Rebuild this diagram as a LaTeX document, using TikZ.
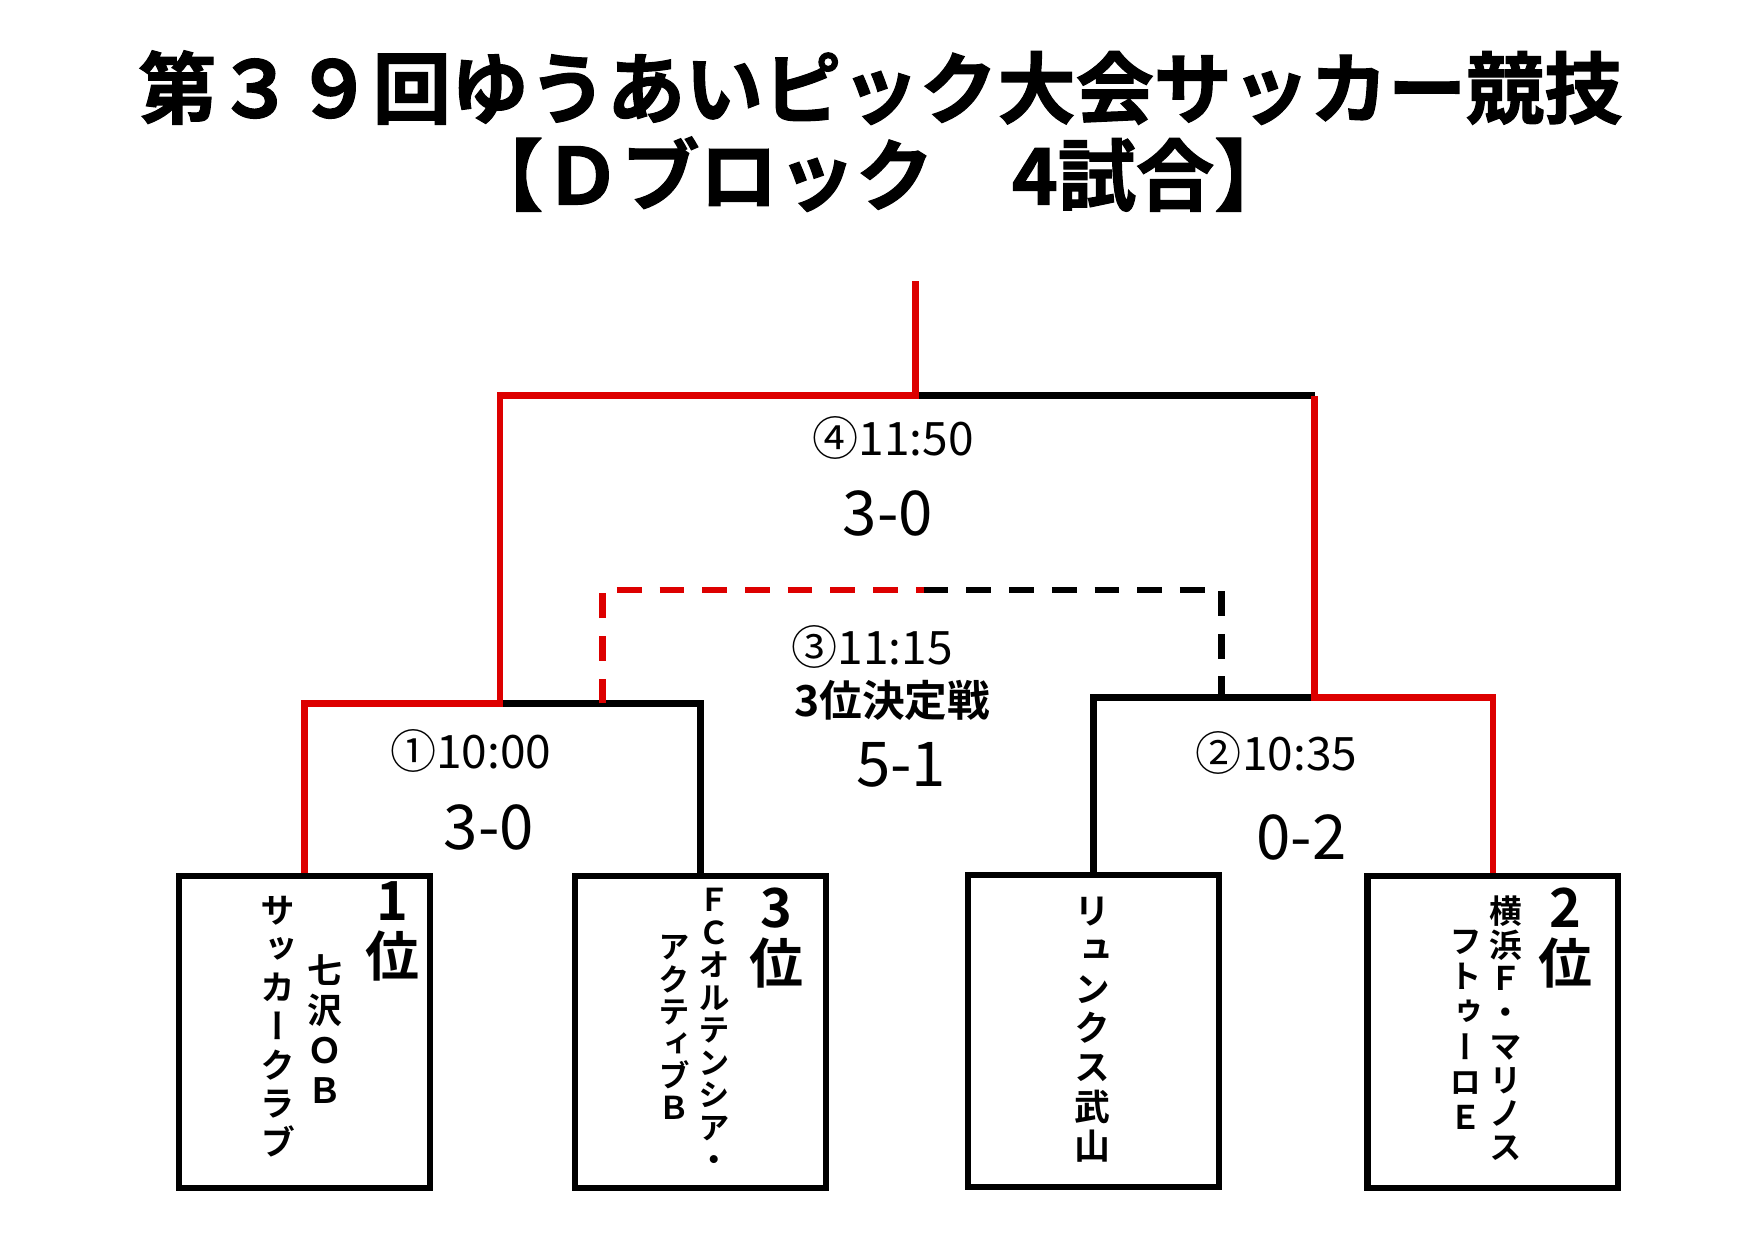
\documentclass[tikz,border=0pt]{standalone}
\usepackage{fontspec}
\usetikzlibrary{calc}
\newfontfamily\jpfont{Noto Sans CJK JP}[BoldFont={* Bold}]
\newfontfamily\jpvfont{Noto Sans CJK JP}[BoldFont={* Bold},RawFeature=+vert]
\newfontfamily\headfont{Noto Sans CJK JP}[UprightFont={* Bold},FakeBold=1.5]
\definecolor{winred}{RGB}{221,0,0}

\begin{document}
\begin{tikzpicture}[x=1pt,y=1pt,yscale=-1,
  team/.style={draw,line width=5.5pt,minimum width=223pt,minimum height=278pt,inner sep=0pt},
  bline/.style={line width=6pt,line join=miter},
  rline/.style={bline,draw=winred},
  dline/.style={line width=6pt,dash pattern=on 22pt off 16pt},
  vcol/.style 2 args={align=center,inner sep=0pt,font=\jpvfont\bfseries\fontsize{#1}{#2}\selectfont},
  rank/.style={align=center,inner sep=0pt,font=\jpvfont\bfseries\fontsize{48}{50}\selectfont},
  gtime/.style={inner sep=0pt,font=\jpfont\fontsize{41}{46}\selectfont},
  gscore/.style={inner sep=0pt,font=\jpfont\fontsize{55}{60}\selectfont},
  headline/.style={inner sep=0pt,font=\headfont\fontsize{69.5}{80}\selectfont}]
\path[use as bounding box] (0,0) rectangle (1560,1103.5);

% Title
\node[headline] (title1) at (783.5,78) {第３９回ゆうあいピック大会サッカー競技};
\node[headline] (title2) at (782,155) {【Ｄブロック　4試合】};

% Team boxes
\node[team] (t1) at (271,918.5) {};
\node[team] (t2) at (623.5,918.5) {};
\node[team] (t3) at (973,917.5) {};
\node[team] (t4) at (1328.5,918.5) {};

% Bracket points
\coordinate (m1) at (445,626);
\coordinate (s1) at (536,626);
\coordinate (m2) at (1170,621);
\coordinate (s2) at (1087,621);
\coordinate (fl) at (445,352);
\coordinate (fc) at (815,352);
\coordinate (fr) at (1170,352);
\coordinate (win) at (815,250);
\coordinate (tl) at (536,525);
\coordinate (tc) at (822,525);
\coordinate (tr) at (1087,525);

%Straight Lines
\draw[bline] (m1) -- (t2.north |- m1) -- (t2.north);
\draw[bline] (t3.north) -- (t3.north |- m2) -- (m2);
\draw[bline] (fc) -- (fr);
\draw[rline] (t1.north) -- (t1.north |- m1) -- (m1) -- (fl) -- (fc) -- (win);
\draw[rline] (t4.north) -- (t4.north |- m2) -- (m2) -- (fr);
%Dashed Lines
\draw[dline,winred] (s1) -- (tl) -- (tc);
\draw[dline] (tc) -- (tr) -- (s2);

% Text Node
\node[gtime] (g4time) at (795,390) {④11:50};
\node[gscore] (g4score) at (790,457) {3-0};
\node[gtime] (g3time) at (776,576) {③11:15};
\node[inner sep=0pt,font=\jpfont\bfseries\fontsize{38}{44}\selectfont] (g3note) at (794,623) {3位決定戦};
\node[gscore] (g3score) at (802,681) {5-1};
\node[gtime] (g1time) at (419,668) {①10:00};
\node[gscore] (g1score) at (435,736) {3-0};
\node[gtime] (g2time) at (1136,670) {②10:35};
\node[gscore] (g2score) at (1158,745) {0-2};

% Box Text
\node[rank] (t1rank) at (349,829) {1\\位};
\node[vcol={31}{35.7}] (t1a) at (289,916) {七\\沢\\Ｏ\\Ｂ};
\node[vcol={31}{34.5}] (t1b) at (247,913.5) {サ\\ッ\\カ\\ー\\ク\\ラ\\ブ};
\node[rank] (t2rank) at (691,835) {3\\位};
\node[vcol={28}{28.9}] (t2a) at (636,916.5) {Ｆ\\Ｃ\\オ\\ル\\テ\\ン\\シ\\ア\\・};
\node[vcol={28}{28.6}] (t2b) at (600,914.5) {ア\\ク\\テ\\ィ\\ブ\\Ｂ};
\node[vcol={32}{34.9}] (t3a) at (972,916) {リ\\ュ\\ン\\ク\\ス\\武\\山};
\node[rank] (t4rank) at (1393,835) {2\\位};
\node[vcol={29}{30}] (t4a) at (1340,915) {横\\浜\\Ｆ\\・\\マ\\リ\\ノ\\ス};
\node[vcol={29}{31.4}] (t4b) at (1304,916.5) {フ\\ト\\ゥ\\ー\\ロ\\Ｅ};
\end{tikzpicture}
\end{document}
